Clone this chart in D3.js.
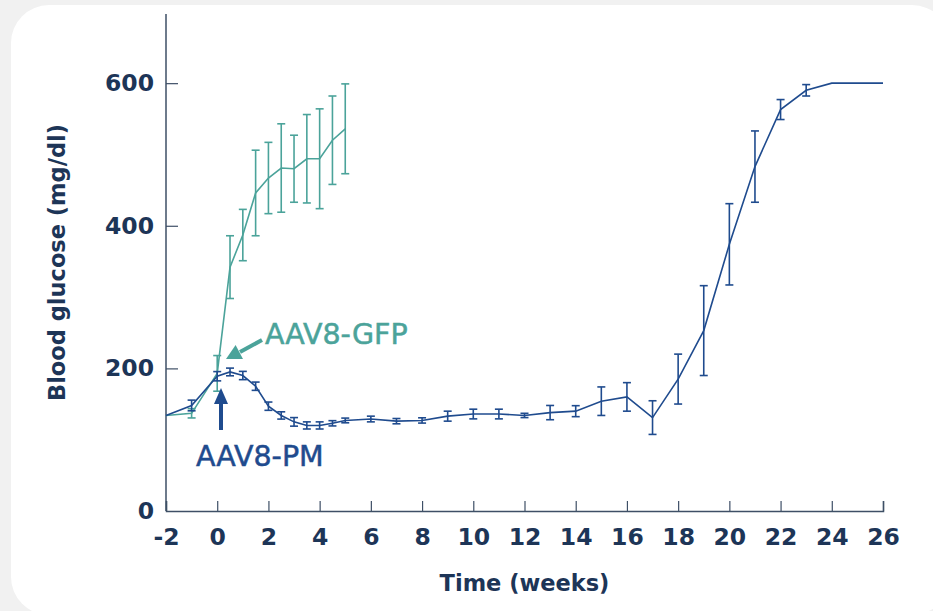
<!DOCTYPE html>
<html>
<head>
<meta charset="utf-8">
<script src="https://cdn.jsdelivr.net/npm/d3@7"></script>
<style>
  html, body { margin: 0; padding: 0; background: #f1f1f1; }
  svg { display: block; }
  text { font-family: "DejaVu Sans", sans-serif; }
</style>
</head>
<body>
<svg id="chart" width="933" height="611"></svg>
<script>
// ---- data ----
const pmWeeks  = [-2, -1, 0, 0.5, 1, 1.5, 2, 2.5, 3, 3.5, 4, 4.5, 5, 6, 7, 8, 9, 10, 11, 12, 13, 14, 15, 16, 17, 18, 19, 20, 21, 22, 23, 24, 26];
const pmValues = [134, 148, 189, 195, 190, 175, 147, 134, 125, 120, 120, 123, 127, 129, 126, 127, 133, 136, 136, 134, 138, 140, 154, 160, 131, 185, 253, 374, 483, 563, 590, 600, 600];
const pmErrors = [0, 7.5, 6.5, 5.4, 5.8, 5.8, 5.8, 5.1, 6, 5, 5, 3.7, 3.3, 4, 3.7, 3.7, 7, 6.8, 6.8, 3, 10, 7.7, 20, 20, 23.6, 35, 63, 57, 50, 14, 8, 0, 0];

const gfpWeeks  = [-2, -1, 0, 0.5, 1, 1.5, 2, 2.5, 3, 3.5, 4, 4.5, 5];
const gfpValues = [134, 137, 193, 342, 387, 446, 467, 481, 480, 494, 494, 520, 536];
const gfpErrors = [0, 6.5, 25, 44, 36, 60, 50, 62, 47, 62, 70, 62, 63];

const xTicks = [-2, 0, 2, 4, 6, 8, 10, 12, 14, 16, 18, 20, 22, 24, 26];
const yTicks = [0, 200, 400, 600];

const seriesNames = ["AAV8-GFP", "AAV8-PM"];
const colors = { gfp: "#4ba39a", pm: "#1f4b8e" };
const textColor = "#1d3557";
const axisColor = "#3e4f66";

// ---- layout ----
const svg = d3.select("#chart");
svg.append("rect").attr("x", 11).attr("y", 5).attr("width", 939).attr("height", 610)
   .attr("rx", 38).attr("ry", 38).attr("fill", "#ffffff");

const x = d3.scaleLinear().domain([-2, 26]).range([166, 883]);
const y = d3.scaleLinear().domain([0, 697]).range([511, 14]);

// axes
const gx = svg.append("g").attr("transform", `translate(0,${y(0)})`)
  .call(d3.axisBottom(x).tickValues(xTicks).tickSize(-10).tickPadding(17).tickFormat(d => String(d)));
const gy = svg.append("g").attr("transform", `translate(${x(-2)},0)`)
  .call(d3.axisLeft(y).tickValues(yTicks).tickSize(-12).tickPadding(12).tickFormat(d => String(d)));
gy.select(".domain").attr("d", `M0,${y(0)}V${y(697)}`);
[gx, gy].forEach(g => {
  g.select(".domain").attr("stroke", axisColor).attr("stroke-width", 1.5);
  g.selectAll(".tick line").attr("stroke", axisColor).attr("stroke-width", 1.2);
  g.selectAll(".tick text").attr("fill", textColor).attr("font-size", 23.5).attr("font-weight", 700)
    .attr("font-family", "'DejaVu Sans', sans-serif");
});
gy.selectAll(".tick line").filter(d => d === 0).remove();
gx.selectAll(".tick text").attr("dy", "0.71em");

// axis titles
svg.append("text").attr("x", (x(-2) + x(26)) / 2).attr("y", 591)
  .attr("text-anchor", "middle").attr("fill", textColor).attr("font-size", 22.5).attr("font-weight", 700)
  .text("Time (weeks)");
svg.append("text").attr("transform", `translate(65,${(y(0) + y(697)) / 2}) rotate(-90)`)
  .attr("text-anchor", "middle").attr("fill", textColor).attr("font-size", 22.5).attr("font-weight", 700)
  .text("Blood glucose (mg/dl)");

// series
function drawSeries(weeks, values, errors, color) {
  const data = weeks.map((w, i) => ({ w, v: values[i], e: errors[i] }));
  const line = d3.line().x(d => x(d.w)).y(d => y(d.v));
  const g = svg.append("g");
  g.append("path").datum(data).attr("d", line).attr("fill", "none")
    .attr("stroke", color).attr("stroke-width", 1.6);
  const eb = g.selectAll(".eb").data(data.filter(d => d.e > 0)).enter().append("g");
  const cap = 4;
  eb.append("line").attr("x1", d => x(d.w)).attr("x2", d => x(d.w))
    .attr("y1", d => y(d.v - d.e)).attr("y2", d => y(d.v + d.e));
  eb.append("line").attr("x1", d => x(d.w) - cap).attr("x2", d => x(d.w) + cap)
    .attr("y1", d => y(d.v + d.e)).attr("y2", d => y(d.v + d.e));
  eb.append("line").attr("x1", d => x(d.w) - cap).attr("x2", d => x(d.w) + cap)
    .attr("y1", d => y(d.v - d.e)).attr("y2", d => y(d.v - d.e));
  eb.selectAll("line").attr("stroke", color).attr("stroke-width", 1.6);
}
drawSeries(gfpWeeks, gfpValues, gfpErrors, colors.gfp);
drawSeries(pmWeeks, pmValues, pmErrors, colors.pm);

// annotations
svg.append("text").attr("x", 265).attr("y", 344).attr("fill", colors.gfp)
  .attr("font-size", 28.5).attr("stroke", colors.gfp).attr("stroke-width", 0.5).text(seriesNames[0]);
svg.append("line").attr("x1", 262).attr("y1", 340).attr("x2", 240).attr("y2", 352)
  .attr("stroke", colors.gfp).attr("stroke-width", 4);
svg.append("path").attr("d", "M226,359L243,359L235.6,345Z").attr("fill", colors.gfp);

svg.append("text").attr("x", 196).attr("y", 466).attr("fill", colors.pm)
  .attr("font-size", 28.5).attr("stroke", colors.pm).attr("stroke-width", 0.5).text(seriesNames[1]);
svg.append("line").attr("x1", 221).attr("y1", 430).attr("x2", 221).attr("y2", 400)
  .attr("stroke", colors.pm).attr("stroke-width", 4);
svg.append("path").attr("d", "M221,388L228,404L214,404Z").attr("fill", colors.pm);
</script>
</body>
</html>
